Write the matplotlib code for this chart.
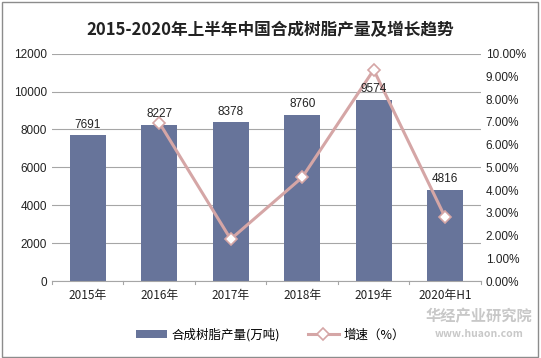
import matplotlib
matplotlib.use("Agg")
import matplotlib.pyplot as plt
from matplotlib.patches import Rectangle
from matplotlib.ticker import FuncFormatter

plt.rcParams['font.family'] = ['Noto Sans CJK SC', 'DejaVu Sans']

# data
years = ['2015年', '2016年', '2017年', '2018年', '2019年', '2020年H1']
output = [7691, 8227, 8378, 8760, 9574, 4816]
growth = [None, 6.97, 1.84, 4.56, 9.29, 2.80]

bar_color = '#67749A'
line_color = '#D5A6A6'

fig = plt.figure(figsize=(5.41, 3.58), dpi=100)
ax = fig.add_axes([0.096, 0.215, 0.793, 0.635])
x = list(range(len(years)))

ax.bar(x, output, width=0.5, color=bar_color, zorder=2, label='合成树脂产量(万吨)')

ax.set_ylim(0, 12000)
ax.set_yticks(range(0, 12001, 2000))
ax.set_xlim(-0.5, len(years) - 0.5)
ax.set_xticks(x)
ax.set_xticklabels(years)
ax.grid(axis='y', color='#A6A6A6', linewidth=0.8, zorder=0)
for s in ['top', 'right', 'left']:
    ax.spines[s].set_visible(False)
ax.spines['bottom'].set_color('#A6A6A6')
ax.tick_params(axis='y', length=0, labelsize=8.5, colors='#222222')
ax.tick_params(axis='x', length=0, labelsize=8.5, colors='#222222', pad=6)
for t in ax.get_yticklabels():
    t.set_family(['Liberation Sans', 'DejaVu Sans'])
# small tick marks between categories
for b in [i + 0.5 for i in range(len(years) - 1)] + [-0.5, len(years) - 0.5]:
    ax.plot([b, b], [0, -150], color='#A6A6A6', lw=0.8, clip_on=False, zorder=3)

ax2 = ax.twinx()
gx = [i for i, g in enumerate(growth) if g is not None]
gy = [g for g in growth if g is not None]
ax2.plot(gx, gy, color=line_color, lw=2.2, marker='D', markersize=6,
         markerfacecolor='white', markeredgecolor=line_color, markeredgewidth=1.2,
         zorder=5, label='增速（%）')
ax2.set_ylim(0, 10)
ax2.set_yticks(range(0, 11))
ax2.yaxis.set_major_formatter(FuncFormatter(lambda v, p: '%.2f%%' % v))
for s in ['top', 'right', 'left', 'bottom']:
    ax2.spines[s].set_visible(False)
ax2.tick_params(axis='y', length=0, labelsize=8.5, colors='#222222')
for t in ax2.get_yticklabels():
    t.set_family(['Liberation Sans', 'DejaVu Sans'])

# value labels drawn on top of the line
for i, v in enumerate(output):
    ax2.text(i, v + 250, str(v), transform=ax.transData, ha='center', va='bottom',
             fontsize=8.5, family=['Liberation Sans', 'DejaVu Sans'],
             color='#222222', zorder=6)

fig.suptitle('2015-2020年上半年中国合成树脂产量及增长趋势', y=0.94, fontsize=12,
             fontweight='bold', color='#222222')

h1, l1 = ax.get_legend_handles_labels()
h2, l2 = ax2.get_legend_handles_labels()
fig.legend(h1 + h2, l1 + l2, loc='center', bbox_to_anchor=(0.5, 0.065), ncol=2,
           frameon=False, fontsize=9, handlelength=2.5, handletextpad=0.4,
           columnspacing=2.2)

# watermark
fig.text(0.885, 0.117, '华经产业研究院', ha='center', va='center', fontsize=11,
         fontweight='bold', color='#C8C8C8', zorder=10)
fig.text(0.885, 0.066, 'www.huaon.com', ha='center', va='center', fontsize=7.5,
         fontweight='bold', color='#C8C8C8', zorder=10)

fig.patches.append(Rectangle((0.004, 0.004), 0.99, 0.99, transform=fig.transFigure,
                             fill=False, edgecolor='#8C8C8C', lw=1.0))

fig.savefig('out.png', dpi=100)
